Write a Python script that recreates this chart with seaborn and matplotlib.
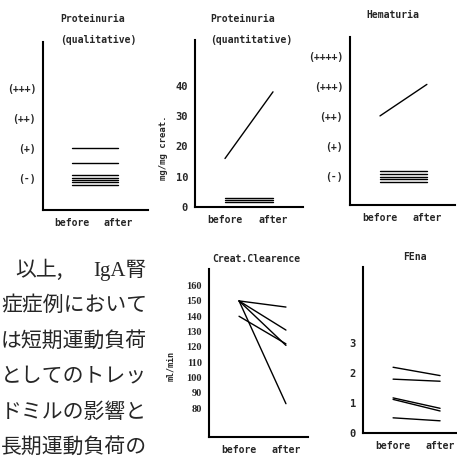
import matplotlib
matplotlib.use("Agg")
import matplotlib.pyplot as plt
import seaborn as sns
import pandas as pd

# ---------------- data ----------------
times = ["before", "after"]

qual_levels = ["(-)", "(+)", "(++)", "(+++)", ""]
qual_before = [2.0, 1.5, 1.1, 1.0, 0.93, 0.85, 0.75]
qual_after = [2.0, 1.5, 1.1, 1.0, 0.93, 0.85, 0.75]

quant_before = [16, 2.9, 2.2, 1.5]
quant_after = [38, 2.9, 2.2, 1.5]

hema_levels = ["(-)", "(+)", "(++)", "(+++)", "(++++)"]
hema_before = [3.0, 1.17, 1.07, 0.98, 0.89, 0.8]
hema_after = [4.05, 1.17, 1.07, 0.98, 0.89, 0.8]

ccr_before = [150, 150, 150, 140, 150]
ccr_after = [146, 131, 121, 122, 83]

fena_before = [2.2, 1.8, 1.17, 1.12, 0.5]
fena_after = [1.92, 1.73, 0.82, 0.73, 0.4]

jp_lines = ["症症例において", "は短期運動負荷", "としてのトレッ", "ドミルの影響と", "長期運動負荷の"]

# ---------------- style ----------------
sns.set_style("white")
plt.rcParams["font.family"] = ["DejaVu Sans Mono", "DejaVu Sans"]
plt.rcParams["font.weight"] = "bold"

W, H = 457, 458
fig = plt.figure(figsize=(W / 100, H / 100), dpi=100)
fig.patch.set_facecolor("white")

MONO = dict(family="DejaVu Sans Mono", weight="bold")


def px_axes(left, top, right, bottom):
    return fig.add_axes([left / W, 1 - bottom / H, (right - left) / W, (bottom - top) / H])


def frame(before, after):
    rows = []
    for i, (b, a) in enumerate(zip(before, after)):
        rows.append({"case": i, "pos": 0, "value": b})
        rows.append({"case": i, "pos": 1, "value": a})
    return pd.DataFrame(rows)


def panel(ax, before, after, xlim, ylim, yticks, ylabels, yfont):
    df = frame(before, after)
    sns.lineplot(data=df, x="pos", y="value", units="case", estimator=None,
                 color="black", linewidth=1.0, ax=ax, legend=False)
    ax.set_xlim(*xlim)
    ax.set_ylim(*ylim)
    ax.set_xticks([0, 1])
    ax.set_xticklabels(times, fontsize=7, **MONO)
    ax.set_yticks(yticks)
    ax.set_yticklabels(ylabels, **yfont)
    ax.set_xlabel("")
    ax.set_ylabel("")
    for s in ["top", "right"]:
        ax.spines[s].set_visible(False)
    for s in ["left", "bottom"]:
        ax.spines[s].set_linewidth(1.5)
        ax.spines[s].set_color("black")
    ax.tick_params(axis="both", direction="in", length=2.5, width=1, color="black")
    ax.tick_params(axis="x", pad=6)
    ax.tick_params(axis="y", pad=5)
    ax.set_facecolor("white")


def ftext(x, y, s, **kw):
    fig.text(x / W, 1 - y / H, s, **kw)


# Panel 1: Proteinuria qualitative
ax1 = px_axes(43, 42, 148, 210)
panel(ax1, qual_before, qual_after, (-0.63, 1.65), (-0.07, 5.53),
      [1, 2, 3, 4, 5], qual_levels, dict(fontsize=7, **MONO))
ftext(60, 19, "Proteinuria", fontsize=7, ha="left", va="center", **MONO)
ftext(60, 40, "(qualitative)", fontsize=7, ha="left", va="center", **MONO)

# Panel 2: Proteinuria quantitative
ax2 = px_axes(195, 40, 303, 207)
panel(ax2, quant_before, quant_after, (-0.625, 1.625), (0, 55.1),
      [0, 10, 20, 30, 40, 50], ["0", "10", "20", "30", "40", ""],
      dict(fontsize=7.5, **MONO))
ftext(210, 19, "Proteinuria", fontsize=7, ha="left", va="center", **MONO)
ftext(210, 40, "(quantitative)", fontsize=7, ha="left", va="center", **MONO)
ftext(164, 148, "mg/mg creat.", fontsize=6.5, rotation=90, ha="center", va="center", **MONO)

# Panel 3: Hematuria
ax3 = px_axes(350, 37, 455, 205)
panel(ax3, hema_before, hema_after, (-0.64, 1.6), (0.03, 5.63),
      [1, 2, 3, 4, 5], hema_levels, dict(fontsize=7, **MONO))
ftext(393, 15, "Hematuria", fontsize=7, ha="center", va="center", **MONO)

# Panel 4: Creat. Clearence
ax4 = px_axes(209, 269, 308, 437)
ccr_ticks = [80, 90, 100, 110, 120, 130, 140, 150, 160]
panel(ax4, ccr_before, ccr_after, (-0.64, 1.47), (61.3, 170.8),
      ccr_ticks, [str(t) for t in ccr_ticks],
      dict(fontsize=7.5, family="Liberation Serif", weight="bold"))
ftext(256, 259, "Creat.Clearence", fontsize=7, ha="center", va="center", **MONO)
ftext(171, 366, "ml/min", fontsize=6, rotation=90, ha="center", va="center", **MONO)

# Panel 5: FEna
ax5 = px_axes(363, 267, 457, 433)
panel(ax5, fena_before, fena_after, (-0.64, 1.36), (-0.01, 5.57),
      [0, 1, 2, 3], ["0", "1", "2", "3"], dict(fontsize=7.5, **MONO))
ftext(415, 257, "FEna", fontsize=7, ha="center", va="center", **MONO)

# Japanese body text
JP = ["Noto Sans CJK JP", "DejaVu Sans"]
ftext(15, 270, "以上,", fontsize=15, ha="left", va="center", family=JP, weight="normal")
ftext(147, 270, "IgA腎", fontsize=15, ha="right", va="center",
      family=["Liberation Serif", "Noto Sans CJK JP"], weight="normal")
for i, line in enumerate(jp_lines):
    ftext(147, 305 + 35.5 * i, line, fontsize=15, ha="right", va="center",
          family=JP, weight="normal")

fig.savefig("out.png", dpi=100, facecolor="white")
